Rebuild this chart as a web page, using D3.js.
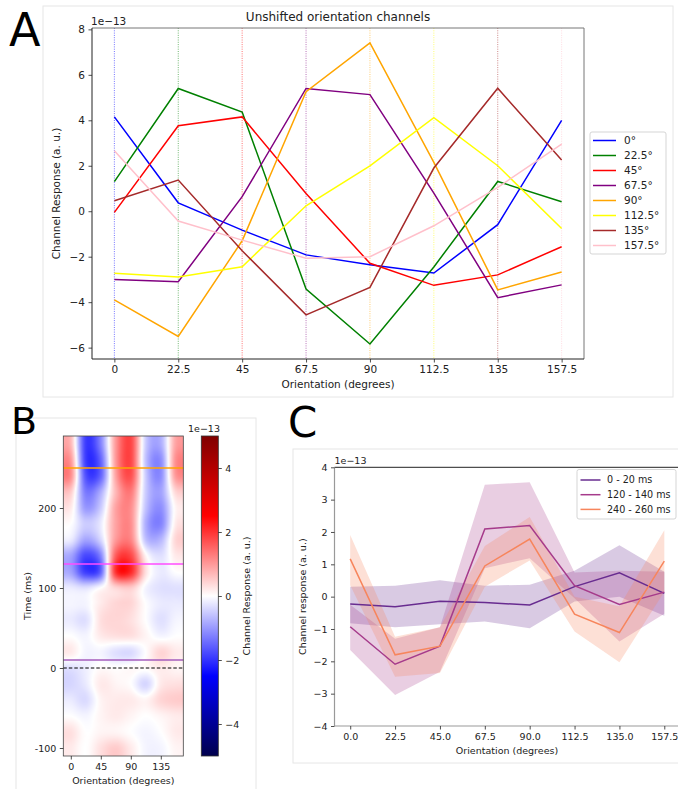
<!DOCTYPE html>
<html>
<head>
<meta charset="utf-8">
<style>
  body { margin: 0; background: #fff; }
  svg { display: block; font-family: "DejaVu Sans", sans-serif; }
</style>
</head>
<body>
<svg width="678" height="789"></svg>
<script src="https://cdn.jsdelivr.net/npm/d3@7/dist/d3.min.js"></script>
<script>
// ---- data ----
var orientations = [0, 22.5, 45, 67.5, 90, 112.5, 135, 157.5];
var channelLabels = ["0°", "22.5°", "45°", "67.5°", "90°", "112.5°", "135°", "157.5°"];
var channelColors = ["blue", "green", "red", "purple", "orange", "yellow", "brown", "pink"];

// channel response (x 1e-13), one row per channel
var chan0   = [4.15, 0.37, -0.83, -1.92, -2.35, -2.72, -0.59, 4.0];
var chan22  = [1.30, 5.40, 4.36, -3.42, -5.84, -2.45, 1.31, 0.42];
var chan45  = [-0.05, 3.76, 4.15, 0.78, -2.29, -3.26, -2.80, -1.56];
var chan67  = [-3.0, -3.1, 0.64, 5.40, 5.13, 0.8, -3.80, -3.24];
var chan90  = [-3.90, -5.51, -1.30, 5.26, 7.40, 2.15, -3.46, -2.67];
var chan112 = [-2.73, -2.89, -2.44, 0.24, 2.0, 4.12, 2.0, -0.76];
var chan135 = [0.46, 1.37, -1.74, -4.56, -3.35, 1.9, 5.41, 2.25];
var chan157 = [2.66, -0.43, -1.27, -2.07, -2.0, -0.64, 1.05, 2.95];
var channels = [chan0, chan22, chan45, chan67, chan90, chan112, chan135, chan157];

// time x orientation heatmap (x 1e-13), rows at these times (ms)
var hmTimes = [-100, -80, -60, -40, -20, 0, 20, 40, 60, 80, 100, 120, 140, 160, 180, 200, 220, 240, 260, 280];
var hmValues = [
  [0.2, 0.0, 0.3, 0.5, 0.2, -0.1, -0.1, 0.1],
  [0.3, 0.0, 0.1, 0.1, 0.0, -0.1, 0.0, 0.2],
  [0.0, -0.1, 0.1, 0.2, 0.1, 0.0, 0.1, 0.2],
  [-0.2, -0.35, 0.1, 0.2, 0.2, 0.1, 0.4, 0.5],
  [-0.4, -0.2, 0.2, 0.1, 0.0, -0.4, 0.2, 0.3],
  [-0.3, -0.15, 0.05, 0.0, 0.05, 0.05, 0.2, 0.1],
  [0.2, -0.1, -0.1, -0.3, -0.35, 0.0, 0.4, 0.2],
  [0.0, -0.1, 0.2, 0.3, 0.3, 0.1, -0.1, 0.0],
  [-0.2, -0.3, 0.3, 0.4, 0.3, 0.0, -0.3, -0.1],
  [-0.1, -0.1, 0.2, 0.4, 0.4, 0.0, -0.2, -0.2],
  [-0.2, -0.3, 0.0, 0.4, 0.5, -0.1, -0.3, -0.3],
  [-0.9, -1.9, -1.5, 2.0, 2.1, 0.3, -0.2, 0.0],
  [-0.9, -1.8, -1.2, 1.6, 1.8, 0.1, -0.3, 0.2],
  [-0.2, -0.9, -0.4, 1.0, 1.2, -0.6, -0.7, 0.4],
  [0.0, -0.5, -0.2, 0.9, 1.1, -0.8, -1.2, 0.2],
  [0.2, -1.0, -0.5, 0.9, 1.1, -0.6, -1.1, 0.1],
  [0.5, -1.3, -0.8, 0.7, 1.3, -0.5, -0.9, 0.4],
  [1.1, -1.7, -1.5, 0.9, 1.7, -0.5, -1.1, 1.0],
  [1.0, -1.9, -1.5, 1.0, 1.8, -0.6, -1.1, 1.1],
  [0.7, -1.9, -1.2, 1.0, 1.8, -0.5, -0.8, 0.9]
];
var markTimes = [250, 130, 10];
var markColors = ["orange", "#ff4dff", "#a45cbc"];

// time-window averages (x 1e-13)
var windowLabels = ["0 - 20 ms", "120 - 140 ms", "240 - 260 ms"];
var windowColors = ["#682c90", "#a63b8b", "#f7855c"];
var winMean = [
  [-0.23, -0.31, -0.14, -0.18, -0.26, 0.31, 0.74, 0.10],
  [-0.93, -2.09, -1.53, 2.09, 2.20, 0.34, -0.24, 0.14],
  [1.17, -1.80, -1.53, 0.95, 1.78, -0.54, -1.11, 1.10]
];
var winLo = [
  [-0.82, -0.95, -0.85, -0.77, -0.98, -0.15, 0.0, -0.59],
  [-1.65, -3.04, -2.32, 0.88, 1.19, -0.05, -1.39, -0.53],
  [0.35, -2.48, -2.36, 0.31, 1.12, -1.08, -2.03, 0.15]
];
var winHi = [
  [0.31, 0.34, 0.51, 0.34, 0.37, 0.8, 1.59, 0.77],
  [-0.25, -1.3, -0.95, 3.46, 3.54, 0.75, 0.8, 0.77],
  [1.91, -1.24, -0.95, 1.57, 2.46, 0.0, -0.3, 2.05]
];

var svg = d3.select("svg");
var ink = "#222";

function styleAxis(g, size) {
  g.select(".domain").remove();
  g.selectAll(".tick line").attr("stroke", ink).attr("stroke-width", 0.8);
  g.selectAll(".tick text").attr("fill", ink).attr("font-size", size)
    .attr("font-family", "DejaVu Sans, sans-serif");
}

// ================= panel A =================
var A = {l: 92, r: 584, t: 28, b: 359};
svg.append("rect").attr("x", 43).attr("y", 6).attr("width", 630).attr("height", 391)
  .attr("fill", "none").attr("stroke", "#e6e6e6");

var xA = d3.scaleLinear().domain([-7.875, 165.375]).range([A.l, A.r]);
var yA = d3.scaleLinear().domain([-6.5, 8.06]).range([A.b, A.t]);

var gA = svg.append("g");

gA.selectAll(".vline").data(orientations).enter().append("line")
  .attr("x1", function(d) { return xA(d); }).attr("x2", function(d) { return xA(d); })
  .attr("y1", A.t).attr("y2", A.b)
  .attr("stroke", function(d, i) { return channelColors[i]; })
  .attr("stroke-width", 0.7).attr("stroke-opacity", 0.8).attr("stroke-dasharray", "1,1.3");

var lineA = d3.line()
  .x(function(d, i) { return xA(orientations[i]); })
  .y(function(d) { return yA(d); });

gA.selectAll(".chan").data(channels).enter().append("path")
  .attr("d", lineA).attr("fill", "none")
  .attr("stroke", function(d, i) { return channelColors[i]; })
  .attr("stroke-width", 1.5);

// spines
gA.append("line").attr("x1", A.l).attr("x2", A.r).attr("y1", A.t).attr("y2", A.t).attr("stroke", "#777");
gA.append("line").attr("x1", A.r).attr("x2", A.r).attr("y1", A.t).attr("y2", A.b).attr("stroke", "#777");
gA.append("line").attr("x1", A.l).attr("x2", A.l).attr("y1", A.t).attr("y2", A.b).attr("stroke", ink);
gA.append("line").attr("x1", A.l).attr("x2", A.r).attr("y1", A.b).attr("y2", A.b).attr("stroke", ink);

gA.append("g").attr("transform", "translate(0," + A.b + ")")
  .call(d3.axisBottom(xA).tickValues(orientations).tickFormat(function(d) { return String(d); })
    .tickSize(3.5).tickPadding(3.5))
  .call(styleAxis, 10.5);
gA.append("g").attr("transform", "translate(" + A.l + ",0)")
  .call(d3.axisLeft(yA).tickValues([-6, -4, -2, 0, 2, 4, 6, 8]).tickSize(3.5).tickPadding(3.5))
  .call(styleAxis, 10.5);

gA.append("text").attr("x", A.l - 1).attr("y", 25).attr("font-size", 10.5).attr("fill", ink).text("1e\u221213");
gA.append("text").attr("x", (A.l + A.r) / 2).attr("y", 21).attr("text-anchor", "middle")
  .attr("font-size", 12).attr("fill", ink).text("Unshifted orientation channels");
gA.append("text").attr("x", (A.l + A.r) / 2).attr("y", 388).attr("text-anchor", "middle")
  .attr("font-size", 10.5).attr("fill", ink).text("Orientation (degrees)");
gA.append("text").attr("transform", "translate(60," + ((A.t + A.b) / 2) + ") rotate(-90)")
  .attr("text-anchor", "middle").attr("font-size", 10.5).attr("fill", ink).text("Channel Response (a. u.)");

var legA = gA.append("g").attr("transform", "translate(590,132)");
legA.append("rect").attr("width", 76).attr("height", 122).attr("rx", 2)
  .attr("fill", "#fff").attr("stroke", "#d5d5d5");
var legAItems = legA.selectAll(".li").data(channelLabels).enter().append("g")
  .attr("transform", function(d, i) { return "translate(0," + (8.5 + i * 15) + ")"; });
legAItems.append("line").attr("x1", 3).attr("x2", 26)
  .attr("stroke", function(d, i) { return channelColors[i]; }).attr("stroke-width", 1.5);
legAItems.append("text").attr("x", 34).attr("dy", "0.35em").attr("font-size", 10.5).attr("fill", ink)
  .text(function(d) { return d; });

svg.append("text").attr("x", 9).attr("y", 46).attr("font-size", 46).attr("fill", "#000").text("A");

// ================= panel B =================
svg.append("rect").attr("x", 16).attr("y", 418).attr("width", 240).attr("height", 390)
  .attr("fill", "none").attr("stroke", "#e6e6e6");

var B = {l: 63.3, r: 183.3, t: 436, b: 756};
var xB = d3.scaleLinear().domain([-11.25, 168.75]).range([B.l, B.r]);
var yB = d3.scaleLinear().domain([-110, 290]).range([B.b, B.t]);
var seismic = d3.scaleLinear().domain([-5, -2.5, 0, 2.5, 5])
  .range(["#00004d", "#0000ff", "#ffffff", "#ff0000", "#800000"]).clamp(true);

function keys(x) {
  var a = -0.5, ax = Math.abs(x);
  if (ax <= 1) return (a + 2) * ax * ax * ax - (a + 3) * ax * ax + 1;
  if (ax < 2) return a * ax * ax * ax - 5 * a * ax * ax + 8 * a * ax - 4 * a;
  return 0;
}
function sampleHM(r, c) {
  var nr = hmValues.length, nc = orientations.length;
  var r0 = Math.floor(r), c0 = Math.floor(c), fr = r - r0, fc = c - c0, s = 0;
  for (var m = -1; m <= 2; m++) {
    var rr = Math.min(nr - 1, Math.max(0, r0 + m)), wr = keys(m - fr);
    for (var n = -1; n <= 2; n++) {
      var cc = Math.min(nc - 1, Math.max(0, c0 + n));
      s += hmValues[rr][cc] * wr * keys(n - fc);
    }
  }
  return s;
}

var W = Math.round(B.r - B.l), H = Math.round(B.b - B.t);
var canvas = document.createElement("canvas");
canvas.width = W; canvas.height = H;
var ctx = canvas.getContext("2d");
var img = ctx.createImageData(W, H);
var dt = hmTimes[1] - hmTimes[0], dOri = orientations[1] - orientations[0];
for (var j = 0; j < H; j++) {
  var t = yB.invert(B.t + (j + 0.5) * (B.b - B.t) / H);
  var rIdx = (t - hmTimes[0]) / dt;
  for (var i = 0; i < W; i++) {
    var ori = xB.invert(B.l + (i + 0.5) * (B.r - B.l) / W);
    var col = d3.color(seismic(sampleHM(rIdx, (ori - orientations[0]) / dOri)));
    var k = (j * W + i) * 4;
    img.data[k] = col.r; img.data[k + 1] = col.g; img.data[k + 2] = col.b; img.data[k + 3] = 255;
  }
}
ctx.putImageData(img, 0, 0);

var gB = svg.append("g");
gB.append("image").attr("x", B.l).attr("y", B.t).attr("width", B.r - B.l).attr("height", B.b - B.t)
  .attr("preserveAspectRatio", "none").attr("href", canvas.toDataURL());

gB.selectAll(".mark").data(markTimes).enter().append("line")
  .attr("x1", B.l).attr("x2", B.r)
  .attr("y1", function(d) { return yB(d); }).attr("y2", function(d) { return yB(d); })
  .attr("stroke", function(d, i) { return markColors[i]; }).attr("stroke-width", 1.5);
gB.append("line").attr("x1", B.l).attr("x2", B.r).attr("y1", yB(0)).attr("y2", yB(0))
  .attr("stroke", "#000").attr("stroke-width", 1).attr("stroke-dasharray", "3.5,2");

gB.append("rect").attr("x", B.l).attr("y", B.t).attr("width", B.r - B.l).attr("height", B.b - B.t)
  .attr("fill", "none").attr("stroke", "#444").attr("stroke-width", 0.8);

gB.append("g").attr("transform", "translate(0," + B.b + ")")
  .call(d3.axisBottom(xB).tickValues([0, 45, 90, 135]).tickSize(3.5).tickPadding(3.5))
  .call(styleAxis, 9.5);
gB.append("g").attr("transform", "translate(" + B.l + ",0)")
  .call(d3.axisLeft(yB).tickValues([-100, 0, 100, 200]).tickFormat(function(d) { return String(d); })
    .tickSize(3.5).tickPadding(3.5))
  .call(styleAxis, 9.5);
gB.append("text").attr("x", (B.l + B.r) / 2).attr("y", 784).attr("text-anchor", "middle")
  .attr("font-size", 9.5).attr("fill", ink).text("Orientation (degrees)");
gB.append("text").attr("transform", "translate(31," + ((B.t + B.b) / 2) + ") rotate(-90)")
  .attr("text-anchor", "middle").attr("font-size", 9.5).attr("fill", ink).text("Time (ms)");

// colorbar
var CB = {l: 201.3, r: 218.3};
var cbY = d3.scaleLinear().domain([-5, 5]).range([B.b, B.t]);
var grad = svg.append("defs").append("linearGradient").attr("id", "seis")
  .attr("x1", 0).attr("y1", 1).attr("x2", 0).attr("y2", 0);
grad.selectAll("stop").data(d3.range(0, 1.0001, 0.05)).enter().append("stop")
  .attr("offset", function(d) { return d; })
  .attr("stop-color", function(d) { return seismic(-5 + 10 * d); });
gB.append("rect").attr("x", CB.l).attr("y", B.t).attr("width", CB.r - CB.l).attr("height", B.b - B.t)
  .attr("fill", "url(#seis)").attr("stroke", "#333").attr("stroke-width", 0.8);
gB.append("g").attr("transform", "translate(" + CB.r + ",0)")
  .call(d3.axisRight(cbY).tickValues([-4, -2, 0, 2, 4]).tickSize(3.5).tickPadding(3.5))
  .call(styleAxis, 9.5);
gB.append("text").attr("x", 188).attr("y", 432).attr("font-size", 9.5).attr("fill", ink).text("1e\u221213");
gB.append("text").attr("transform", "translate(250," + ((B.t + B.b) / 2) + ") rotate(-90)")
  .attr("text-anchor", "middle").attr("font-size", 9.5).attr("fill", ink).text("Channel Response (a. u.)");

svg.append("text").attr("x", 11).attr("y", 434).attr("font-size", 38).attr("fill", "#000").text("B");

// ================= panel C =================
svg.append("rect").attr("x", 293).attr("y", 449).attr("width", 420).attr("height", 314)
  .attr("fill", "none").attr("stroke", "#e6e6e6");

var C = {l: 334.5, r: 680, t: 467.3, b: 726};
var xC = d3.scaleLinear().domain([-7.875, 165.375]).range([C.l, C.r]);
var yC = d3.scaleLinear().domain([-4, 4]).range([C.b, C.t]);
var gC = svg.append("g");

var bandC = d3.area()
  .x(function(d) { return xC(d.o); })
  .y0(function(d) { return yC(d.lo); })
  .y1(function(d) { return yC(d.hi); });
var lineC = d3.line()
  .x(function(d, i) { return xC(orientations[i]); })
  .y(function(d) { return yC(d); });

winMean.forEach(function(m, s) {
  var pts = orientations.map(function(o, i) { return {o: o, lo: winLo[s][i], hi: winHi[s][i]}; });
  gC.append("path").attr("d", bandC(pts)).attr("fill", windowColors[s]).attr("fill-opacity", 0.25);
});
winMean.forEach(function(m, s) {
  gC.append("path").attr("d", lineC(m)).attr("fill", "none")
    .attr("stroke", windowColors[s]).attr("stroke-width", 1.5);
});

gC.append("line").attr("x1", C.l).attr("x2", C.r).attr("y1", C.t).attr("y2", C.t).attr("stroke", ink);
gC.append("line").attr("x1", C.l).attr("x2", C.l).attr("y1", C.t).attr("y2", C.b).attr("stroke", "#999").attr("stroke-width", 1.2);
gC.append("line").attr("x1", C.l).attr("x2", C.r).attr("y1", C.b).attr("y2", C.b).attr("stroke", "#999").attr("stroke-width", 1.2);

gC.append("g").attr("transform", "translate(0," + C.b + ")")
  .call(d3.axisBottom(xC).tickValues(orientations).tickFormat(d3.format(".1f")).tickSize(3.5).tickPadding(3.5))
  .call(styleAxis, 9.5);
gC.append("g").attr("transform", "translate(" + C.l + ",0)")
  .call(d3.axisLeft(yC).tickValues([-4, -3, -2, -1, 0, 1, 2, 3, 4]).tickSize(3.5).tickPadding(3.5))
  .call(styleAxis, 9.5);
gC.append("text").attr("x", C.l).attr("y", 464).attr("font-size", 9.5).attr("fill", ink).text("1e\u221213");
gC.append("text").attr("x", 507).attr("y", 754).attr("text-anchor", "middle")
  .attr("font-size", 9.5).attr("fill", ink).text("Orientation (degrees)");
gC.append("text").attr("transform", "translate(306," + ((C.t + C.b) / 2) + ") rotate(-90)")
  .attr("text-anchor", "middle").attr("font-size", 9.5).attr("fill", ink).text("Channel response (a. u.)");

var legC = gC.append("g").attr("transform", "translate(577,469.5)");
legC.append("rect").attr("width", 99).attr("height", 49.5).attr("rx", 2)
  .attr("fill", "#fff").attr("fill-opacity", 0.85).attr("stroke", "#d5d5d5");
var legCItems = legC.selectAll(".li").data(windowLabels).enter().append("g")
  .attr("transform", function(d, i) { return "translate(0," + (10.5 + i * 14.7) + ")"; });
legCItems.append("line").attr("x1", 3.5).attr("x2", 23.5)
  .attr("stroke", function(d, i) { return windowColors[i]; }).attr("stroke-width", 1.5);
legCItems.append("text").attr("x", 30).attr("dy", "0.35em").attr("font-size", 9.6).attr("fill", ink)
  .text(function(d) { return d; });

svg.append("text").attr("x", 288).attr("y", 437).attr("font-size", 42).attr("fill", "#000").text("C");
</script>
</body>
</html>
